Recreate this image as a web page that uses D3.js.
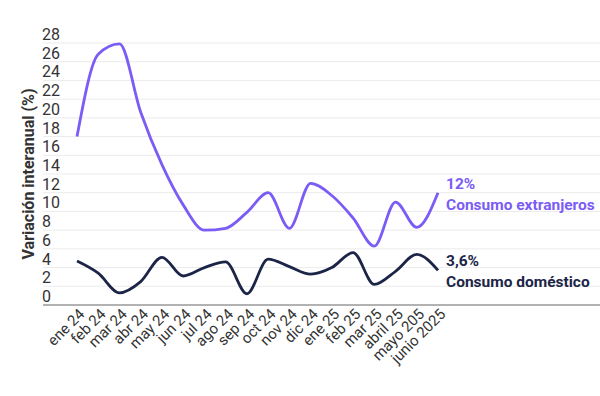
<!DOCTYPE html>
<html>
<head>
<meta charset="utf-8">
<script src="https://cdn.jsdelivr.net/npm/d3@7"></script>
<style>
  body { margin: 0; background: #fff; }
  svg { display: block; font-family: Roboto, sans-serif; }
</style>
</head>
<body>
<div id="chart"></div>
<script>
// month labels as printed on the chart (typos included)
const months = ["ene 24", "feb 24", "mar 24", "abr 24", "may 24", "jun 24", "jul 24", "ago 24",
  "sep 24", "oct 24", "nov 24", "dic 24", "ene 25", "feb 25", "mar 25", "abril 25", "mayo 205", "junio 2025"];

// variación interanual (%)
const extranjeros = [18, 26.8, 27.9, 20.6, 15, 10.7, 8, 8.2, 9.9, 12, 8.2, 13, 11.7, 9.3, 6.3, 11, 8.3, 12];
const domestico = [4.7, 3.4, 1.3, 2.5, 5.1, 3.1, 4, 4.6, 1.2, 4.9, 4.1, 3.3, 4, 5.6, 2.2, 3.6, 5.4, 3.7];

const yTicks = d3.range(0, 29, 2);

const width = 600, height = 396;
const purple = "#7b5cf5", navy = "#1c2547";

const svg = d3.select("#chart").append("svg")
  .attr("width", width)
  .attr("height", height);

const x = d3.scalePoint().domain(months).range([77, 438]);
const y = d3.scaleLinear().domain([0, 28]).range([305, 43]);

// gridlines + tick labels sitting on top of each line
const grid = svg.append("g");
grid.selectAll("line")
  .data(yTicks.filter(d => d > 0))
  .join("line")
  .attr("x1", 43).attr("x2", width)
  .attr("y1", d => y(d)).attr("y2", d => y(d))
  .attr("stroke", "#ebebeb");

grid.selectAll("text")
  .data(yTicks)
  .join("text")
  .attr("x", 42)
  .attr("y", d => y(d) - 3)
  .attr("fill", "#333")
  .attr("font-size", 16)
  .text(d => d);

// baseline
svg.append("line")
  .attr("x1", 43).attr("x2", width)
  .attr("y1", y(0)).attr("y2", y(0))
  .attr("stroke", "#999").attr("stroke-width", 1.5);

// x axis labels, rotated
const xAxis = svg.append("g")
  .attr("transform", `translate(0,${y(0)})`)
  .call(d3.axisBottom(x).tickSize(0).tickPadding(0));
xAxis.select(".domain").remove();
xAxis.selectAll("text")
  .attr("font-size", 15)
  .attr("font-family", "Roboto, sans-serif")
  .attr("fill", "#333")
  .attr("text-anchor", "end")
  .attr("dy", 0)
  .attr("transform", "translate(8,10) rotate(-45)");

// y axis title
svg.append("text")
  .attr("transform", `translate(34,${y(14)}) rotate(-90)`)
  .attr("text-anchor", "middle")
  .attr("font-size", 16)
  .attr("font-weight", 700)
  .attr("fill", "#333")
  .text("Variación interanual (%)");

const line = d3.line()
  .x((d, i) => x(months[i]))
  .y(d => y(d))
  .curve(d3.curveMonotoneX);

svg.append("path")
  .datum(extranjeros)
  .attr("fill", "none")
  .attr("stroke", purple)
  .attr("stroke-width", 2.8)
  .attr("d", line);

svg.append("path")
  .datum(domestico)
  .attr("fill", "none")
  .attr("stroke", navy)
  .attr("stroke-width", 2.8)
  .attr("d", line);

// direct labels
const labels = [
  { value: "12%", name: "Consumo extranjeros", color: purple, y: 189 },
  { value: "3,6%", name: "Consumo doméstico", color: navy, y: 266 }
];
labels.forEach(l => {
  const t = svg.append("text")
    .attr("x", 446)
    .attr("y", l.y)
    .attr("font-size", 15.5)
    .attr("font-weight", 700)
    .attr("fill", l.color);
  t.append("tspan").attr("x", 446).text(l.value);
  t.append("tspan").attr("x", 446).attr("dy", 21).text(l.name);
});
</script>
</body>
</html>
